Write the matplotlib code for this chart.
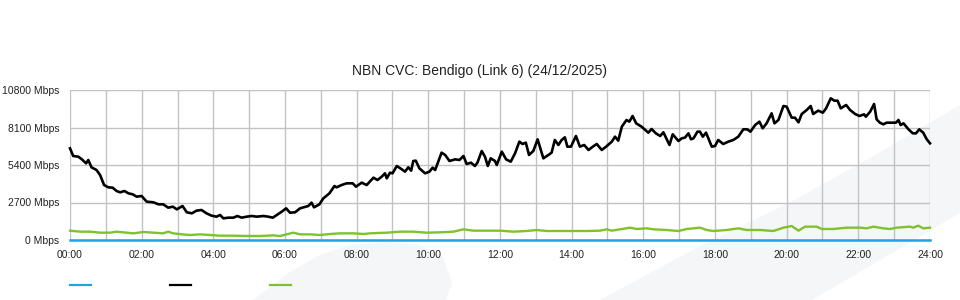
import matplotlib
matplotlib.use("Agg")
import matplotlib.pyplot as plt
from matplotlib.patches import Polygon
from matplotlib.lines import Line2D

plt.rcParams['font.family'] = ['Liberation Sans', 'DejaVu Sans']

title = "NBN CVC: Bendigo (Link 6) (24/12/2025)"
y_ticks = [0, 2700, 5400, 8100, 10800]
y_tick_labels = ["0 Mbps", "2700 Mbps", "5400 Mbps", "8100 Mbps", "10800 Mbps"]
x_ticks = list(range(0, 25, 2))
x_tick_labels = ["%02d:00" % h for h in x_ticks]

# series 1 (blue) - flat at zero
blue_t = [0, 24]
blue_v = [0, 0]

# series 2 (black)
black_t = [0.0, 0.09, 0.23, 0.33, 0.45, 0.51, 0.60, 0.74, 0.84, 0.95, 1.07, 1.19, 1.30, 1.40,
           1.52, 1.63, 1.75, 1.86, 2.00, 2.14, 2.33, 2.47, 2.60, 2.74, 2.87, 2.98, 3.14, 3.26,
           3.40, 3.53, 3.67, 3.81, 3.95, 4.09, 4.19, 4.28, 4.42, 4.56, 4.67, 4.79, 4.93, 5.07,
           5.21, 5.40, 5.53, 5.66, 5.77, 5.91, 6.03, 6.14, 6.28, 6.42, 6.65, 6.74, 6.81, 6.96,
           7.07, 7.24, 7.38, 7.44, 7.58, 7.72, 7.89, 7.98, 8.14, 8.28, 8.47, 8.58, 8.70, 8.79,
           8.84, 8.93, 9.00, 9.12, 9.26, 9.35, 9.44, 9.52, 9.58, 9.65, 9.75, 9.91, 10.03, 10.12,
           10.19, 10.37, 10.47, 10.59, 10.75, 10.87, 10.98, 11.07, 11.19, 11.30, 11.37, 11.49,
           11.58, 11.66, 11.74, 11.86, 11.91, 12.05, 12.17, 12.30, 12.42, 12.54, 12.63, 12.72,
           12.81, 12.93, 13.05, 13.21, 13.35, 13.44, 13.53, 13.63, 13.72, 13.81, 13.88, 13.98,
           14.12, 14.23, 14.35, 14.47, 14.59, 14.70, 14.84, 14.96, 15.12, 15.21, 15.30, 15.40,
           15.53, 15.61, 15.70, 15.80, 15.95, 16.14, 16.23, 16.35, 16.47, 16.56, 16.73, 16.82,
           16.98, 17.07, 17.16, 17.26, 17.33, 17.40, 17.51, 17.58, 17.66, 17.75, 17.91, 18.00,
           18.09, 18.23, 18.37, 18.51, 18.65, 18.79, 18.90, 18.99, 19.12, 19.24, 19.33, 19.44,
           19.58, 19.66, 19.77, 19.91, 20.00, 20.14, 20.23, 20.33, 20.42, 20.56, 20.67, 20.74,
           20.88, 21.01, 21.10, 21.23, 21.33, 21.42, 21.51, 21.66, 21.77, 21.91, 22.03, 22.16,
           22.21, 22.33, 22.44, 22.51, 22.60, 22.70, 22.79, 22.93, 23.05, 23.12, 23.18, 23.26,
           23.40, 23.52, 23.61, 23.70, 23.81, 23.91, 24.0]
black_v = [6600, 6048, 6000, 5808, 5520, 5760, 5232, 5040, 4680, 3960, 3792, 3768, 3528, 3432,
           3528, 3360, 3288, 3120, 3168, 2760, 2712, 2568, 2568, 2328, 2400, 2208, 2448, 1992,
           1920, 2112, 2160, 1920, 1752, 1680, 1800, 1560, 1608, 1608, 1728, 1608, 1680, 1728,
           1680, 1728, 1680, 1608, 1800, 2040, 2280, 1968, 1992, 2280, 2448, 2688, 2352, 2568,
           3000, 3360, 3888, 3792, 3960, 4080, 4080, 3840, 4128, 3960, 4488, 4320, 4560, 4800,
           4440, 4848, 4800, 5328, 5088, 4920, 5232, 4992, 5688, 5712, 5160, 4800, 4920, 5208,
           5040, 6288, 6120, 5688, 5808, 5760, 6048, 5472, 5568, 5328, 5568, 6408,
           6000, 5328, 5880, 5688, 5400, 6360, 5808, 5640, 6240, 7080, 6912, 7008,
           6120, 6408, 7248, 5880, 6120, 6288, 7200, 6840, 7200, 7392, 6720, 6720,
           7488, 6720, 6840, 6480, 6720, 6912, 6480, 6720, 7080, 7440, 7152, 8160,
           8640, 8520, 8928, 8400, 8160, 7728, 7992, 7680, 7488, 7752, 6840, 7608,
           7128, 7320, 7368, 7680, 7248, 7320, 7800, 7800, 7440, 7728, 6720, 6768,
           7200, 6912, 7080, 7200, 7440, 7968, 7968, 7800, 8280, 8520, 8040, 8400,
           9120, 8400, 8640, 9648, 9600, 8808, 8808, 8472, 9072, 9360, 9648, 9072,
           9312, 9168, 9480, 10200, 10032, 10032, 9480, 9720, 9360, 9072, 8928, 9048,
           8880, 9240, 9792, 8688, 8448, 8328, 8448, 8448, 8448, 8640, 8280, 8400,
           7968, 7680, 7680, 7968, 7728, 7248, 6960]

# series 3 (green)
green_t = [0.0, 0.28, 0.56, 0.84, 1.12, 1.30, 1.58, 1.77, 2.05, 2.33, 2.60, 2.74, 2.88, 3.12,
           3.35, 3.63, 3.91, 4.19, 4.56, 4.93, 5.30, 5.67, 5.86, 6.05, 6.23, 6.42, 6.70, 6.98,
           7.26, 7.53, 7.91, 8.19, 8.37, 8.84, 9.21, 9.58, 9.95, 10.33, 10.70, 10.98, 11.26,
           11.63, 12.00, 12.37, 12.74, 13.02, 13.30, 13.67, 14.05, 14.42, 14.79, 14.98, 15.12,
           15.35, 15.63, 15.81, 16.09, 16.28, 16.65, 16.98, 17.21, 17.58, 17.77, 17.95, 18.33,
           18.65, 18.88, 19.26, 19.63, 19.91, 20.14, 20.33, 20.51, 20.70, 20.84, 20.98, 21.30,
           21.67, 22.05, 22.23, 22.42, 22.70, 22.88, 23.07, 23.44, 23.53, 23.67, 23.81, 24.0]
green_v = [672, 600, 600, 528, 528, 600, 528, 480, 576, 528, 480, 600, 480, 408,
           360, 408, 360, 312, 312, 288, 288, 336, 288, 408, 528, 408, 408, 360,
           432, 480, 480, 432, 480, 528, 600, 600, 528, 552, 600, 768, 672,
           672, 672, 600, 648, 720, 648, 648, 648, 648, 672, 768, 672,
           768, 888, 792, 840, 768, 720, 648, 792, 888, 720, 648, 720,
           840, 720, 720, 648, 888, 1008, 672, 960, 960, 960, 792, 792,
           888, 888, 840, 960, 840, 792, 888, 960, 888, 1032, 840, 888]

W, H = 960, 300
fig = plt.figure(figsize=(9.6, 3.0), dpi=100)
fig.patch.set_facecolor('white')

def px(pts):
    return [(x / W, 1 - y / H) for x, y in pts]

wm = '#f5f6f8'
fig.patches.append(Polygon(px([(600, 300), (700, 246), (787, 204), (870, 158), (960, 105),
                               (960, 213), (812, 300)]),
                           closed=True, transform=fig.transFigure, facecolor=wm,
                           edgecolor='none', zorder=-5))
fig.patches.append(Polygon(px([(253, 300), (290, 272), (320, 255), (350, 245), (385, 242),
                               (417, 244), (443, 257), (452, 283), (446, 300)]),
                           closed=True, transform=fig.transFigure, facecolor=wm,
                           edgecolor='none', zorder=-5))

ax = fig.add_axes([70 / W, 1 - 240 / H, 860 / W, 150 / H])
ax.set_zorder(1)
ax.set_facecolor('none')
ax.set_xlim(0, 24)
ax.set_ylim(0, 10800)
for s in ax.spines.values():
    s.set_visible(False)

ax.set_xticks(x_ticks)
ax.set_xticklabels(x_tick_labels)
ax.set_xticks(range(0, 25), minor=True)
ax.set_yticks(y_ticks)
ax.set_yticklabels(y_tick_labels)
ax.tick_params(axis='both', which='both', length=0, labelsize=7.5, colors='#222222')
ax.tick_params(axis='x', pad=7.5)
ax.tick_params(axis='y', pad=7.5)
ax.grid(True, which='both', axis='x', color='#c2c2c2', linewidth=1.0, zorder=1)
ax.grid(True, which='major', axis='y', color='#c2c2c2', linewidth=1.0, zorder=1)
ax.set_axisbelow(True)

ax.plot(green_t, green_v, color='#80c12c', linewidth=1.7, zorder=3, clip_on=False)
ax.plot(black_t, black_v, color='#000000', linewidth=1.9, zorder=4, clip_on=False)
ax.plot(blue_t, blue_v, color='#1ea3e6', linewidth=1.8, zorder=5, clip_on=False)

fig.text(480 / W, 1 - 71 / H, title, ha='center', va='center', fontsize=10, color='#222222')

legend_colors = ['#1ea3e6', '#000000', '#80c12c']
for i, c in enumerate(legend_colors):
    x0 = 70 + 100 * i
    fig.add_artist(Line2D([x0 / W, (x0 + 21) / W], [1 - 285 / H, 1 - 285 / H],
                          transform=fig.transFigure, color=c, linewidth=1.6))

fig.savefig('out.png', dpi=100)
